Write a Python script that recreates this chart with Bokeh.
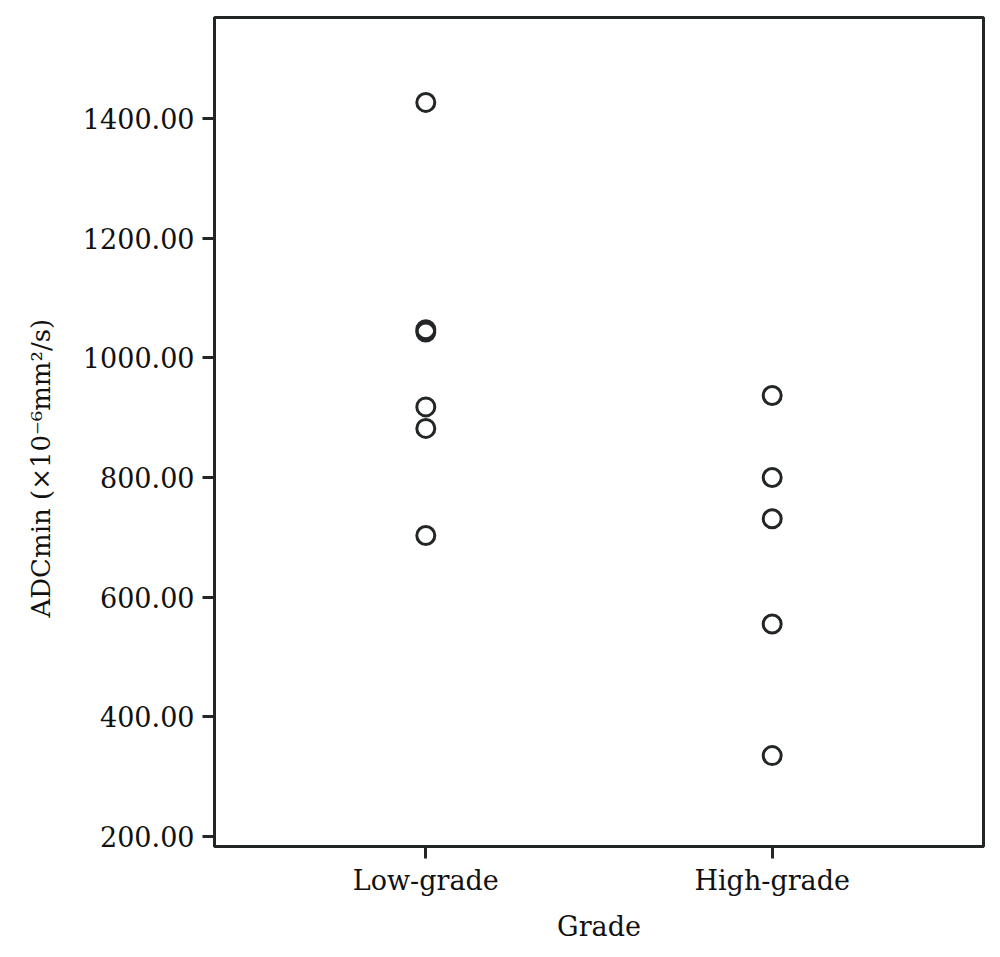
from bokeh.plotting import figure
from bokeh.models import FactorRange, Range1d, FixedTicker, PrintfTickFormatter, Title, ColumnDataSource
from bokeh.embed import file_html
from bokeh.resources import INLINE

categories = ["Low-grade", "High-grade"]
low_grade_values = [1427, 1047, 1043, 918, 882, 703]
high_grade_values = [937, 800, 731, 555, 335]
y_ticks = [200, 400, 600, 800, 1000, 1200, 1400]
x_title = "Grade"
y_title = "ADCmin (\u00d710\u207b\u2076mm\u00b2/s)"

xs = [categories[0]] * len(low_grade_values) + [categories[1]] * len(high_grade_values)
ys = low_grade_values + high_grade_values
src = ColumnDataSource(dict(x=xs, y=ys))

FONT = "DejaVu Serif"
INK = "#222626"
W, H = 995, 950

p = figure(width=W, height=H, output_backend="svg", toolbar_location=None,
           x_range=FactorRange(factors=categories, range_padding=0.11),
           y_range=Range1d(183, 1569),
           min_border_left=214, min_border_right=12, min_border_top=17, min_border_bottom=104)
p.grid.visible = False
p.background_fill_color = "white"
p.border_fill_color = "white"
p.outline_line_color = INK
p.outline_line_width = 3

p.scatter("x", "y", source=src, marker="circle", size=18, fill_color=None,
          line_color=INK, line_width=3)

for ax in (p.xaxis[0], p.yaxis[0]):
    ax.axis_line_color = INK
    ax.axis_line_width = 3
    ax.major_tick_line_color = INK
    ax.major_tick_line_width = 3
    ax.major_tick_out = 12
    ax.major_tick_in = 0
    ax.minor_tick_line_color = None
    ax.major_label_text_font = FONT
    ax.major_label_text_font_size = "27px"
    ax.major_label_text_color = "#111111"

p.yaxis[0].ticker = FixedTicker(ticks=y_ticks)
p.yaxis[0].formatter = PrintfTickFormatter(format="%.2f")
p.yaxis[0].major_label_standoff = 8

p.xaxis[0].major_label_standoff = 6
p.xaxis[0].axis_label = x_title
p.xaxis[0].axis_label_text_font = FONT
p.xaxis[0].axis_label_text_font_size = "27px"
p.xaxis[0].axis_label_text_font_style = "normal"
p.xaxis[0].axis_label_text_color = "#111111"
p.xaxis[0].axis_label_standoff = 12

ytitle = Title(text=y_title, align="left", offset=229, standoff=43, vertical_align="top",
               text_font=FONT, text_font_size="26px", text_font_style="normal",
               text_color="#111111")
p.add_layout(ytitle, "left")

open("out.html", "w").write(file_html(p, INLINE))
